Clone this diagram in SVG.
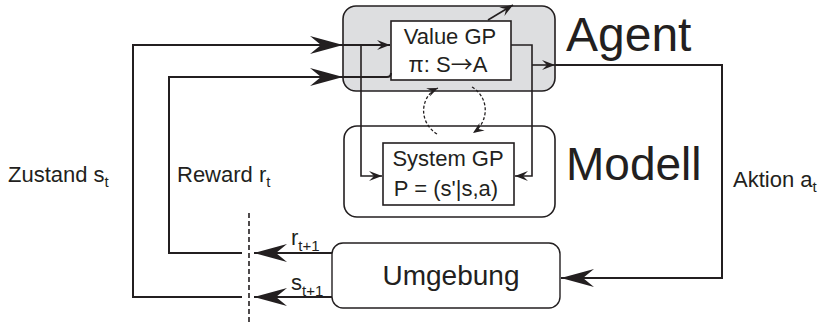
<svg xmlns="http://www.w3.org/2000/svg" width="830" height="325" viewBox="0 0 830 325">
  <style>
    .txt { font-family: "Liberation Sans", Arial, sans-serif; fill: #231f20; }
    .lbl { font-size: 22px; }
    .sub { font-size: 15px; }
    .big { font-size: 48px; }
    .box { fill: #ffffff; stroke: #231f20; stroke-width: 1.6; }
    .wire { fill: none; stroke: #231f20; stroke-width: 2; }
    .thin { fill: none; stroke: #231f20; stroke-width: 1.6; }
    .dash { fill: none; stroke: #231f20; stroke-width: 1.3; stroke-dasharray: 3 2; }
  </style>
  <defs>
    <marker id="headBig" viewBox="-34 -10 35 20" markerWidth="35" markerHeight="20" refX="0" refY="0" markerUnits="userSpaceOnUse" orient="auto">
      <path d="M0,0 L-33,-9 L-22,0 L-33,9 Z" fill="#231f20"/>
    </marker>
    <marker id="headSmall" viewBox="-14 -6 15 12" markerWidth="15" markerHeight="12" refX="0" refY="0" markerUnits="userSpaceOnUse" orient="auto">
      <path d="M0,0 L-13,-5 L-8,0 L-13,5 Z" fill="#231f20"/>
    </marker>
    <marker id="headDash" viewBox="-12 -6 13 12" markerWidth="13" markerHeight="12" refX="0" refY="0" markerUnits="userSpaceOnUse" orient="auto">
      <path d="M0,0 L-11,-4.5 L-7,0 L-11,4.5 Z" fill="#231f20"/>
    </marker>
  </defs>

  <!-- Agent -->
  <g id="agent">
    <rect x="343" y="6" width="212" height="85" rx="13" fill="#dddee0" stroke="#231f20" stroke-width="1.6"/>
    <text class="txt big" x="566" y="51">Agent</text>
  </g>

  <!-- Modell -->
  <g id="modell">
    <rect x="344" y="126" width="211" height="91" rx="13" fill="#ffffff" stroke="#231f20" stroke-width="1.6"/>
    <text class="txt" x="566" y="180" font-size="46">Modell</text>
  </g>

  <!-- Value GP (inside the agent) -->
  <g id="value-gp">
    <rect class="box" x="391" y="21" width="120" height="59"/>
    <text class="txt lbl" x="450" y="44" text-anchor="middle">Value GP</text>
    <text class="txt lbl" x="448" y="72" text-anchor="middle">π: S<tspan font-family="Noto Sans CJK SC, sans-serif">→</tspan>A</text>
  </g>

  <!-- System GP (inside the model) -->
  <g id="system-gp">
    <rect class="box" x="383" y="143" width="131" height="62"/>
    <text class="txt lbl" x="448" y="166" text-anchor="middle">System GP</text>
    <text class="txt lbl" x="446" y="196" text-anchor="middle">P = (s'|s,a)</text>
  </g>

  <!-- Umgebung -->
  <g id="umgebung">
    <rect x="332" y="243" width="228" height="65" rx="11" fill="#ffffff" stroke="#231f20" stroke-width="1.4"/>
    <text class="txt" x="451" y="285" font-size="28" text-anchor="middle">Umgebung</text>
  </g>

  <!-- Connectors -->
  <g id="connectors">
    <!-- state feedback -->
    <path class="wire" d="M242,297 H133 V45 H343" marker-end="url(#headBig)"/>
    <path class="wire" d="M343,45 H390" marker-end="url(#headSmall)"/>
    <!-- reward feedback -->
    <path class="wire" d="M242,253 H169 V77 H343" marker-end="url(#headBig)"/>
    <path class="wire" d="M343,77 H387 Q391,77 391,73"/>
    <!-- environment outputs -->
    <path class="wire" d="M332,253 H254" marker-end="url(#headBig)"/>
    <path class="wire" d="M332,297 H254" marker-end="url(#headBig)"/>
    <!-- time step cut -->
    <line x1="249" y1="213" x2="249" y2="325" stroke="#231f20" stroke-width="1.6" stroke-dasharray="5 3"/>
    <!-- value GP to system GP -->
    <path class="thin" d="M361,45 V176 H382" marker-end="url(#headSmall)"/>
    <path class="thin" d="M511,45 H532 V176 H515" marker-end="url(#headSmall)"/>
    <!-- action output -->
    <path class="thin" d="M532,65 H555" marker-end="url(#headSmall)"/>
    <path class="wire" d="M555,65 H722 V278 H561" marker-end="url(#headBig)"/>
    <!-- update arrow -->
    <path class="thin" d="M488,20 L513,5" marker-end="url(#headSmall)"/>
    <!-- model / value interplay -->
    <path class="dash" d="M437,134 C418,122 420,96 438,88" marker-end="url(#headDash)"/>
    <path class="dash" d="M472,87 C490,98 489,122 473,133" marker-end="url(#headDash)"/>
  </g>

  <!-- signal labels -->
  <text class="txt lbl" x="8" y="182">Zustand s<tspan class="sub" dy="5">t</tspan></text>
  <text class="txt lbl" x="177" y="182">Reward r<tspan class="sub" dy="5">t</tspan></text>
  <text class="txt lbl" x="733" y="187">Aktion a<tspan class="sub" dy="5">t</tspan></text>
  <text class="txt lbl" x="291" y="245">r<tspan class="sub" dy="6">t+1</tspan></text>
  <text class="txt lbl" x="291" y="290">s<tspan class="sub" dy="6">t+1</tspan></text>
</svg>
